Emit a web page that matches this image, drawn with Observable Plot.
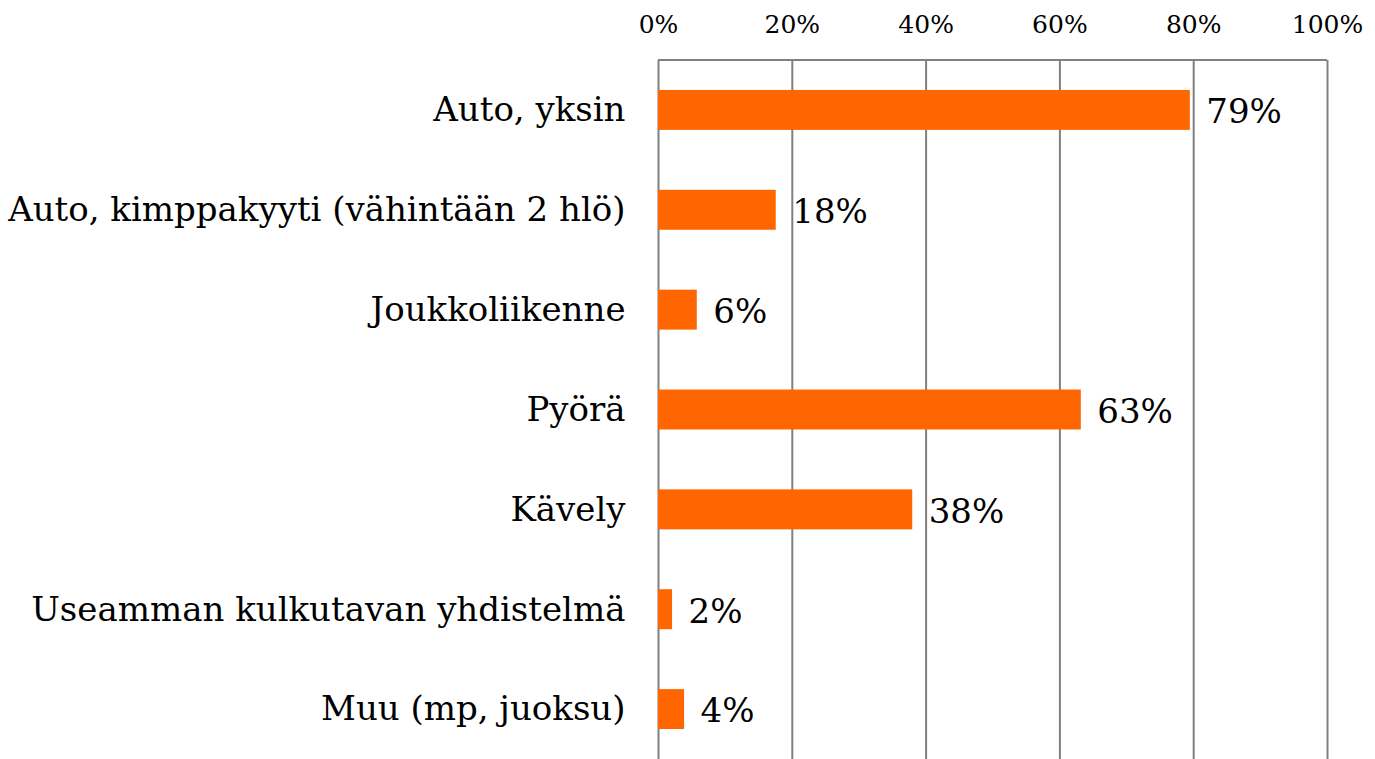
<!DOCTYPE html>
<html>
<head>
<meta charset="utf-8">
<script src="https://cdn.jsdelivr.net/npm/d3@7"></script>
<script src="https://cdn.jsdelivr.net/npm/@observablehq/plot@0.6"></script>
<style>
  html, body { margin: 0; padding: 0; background: #fff; }
  #chart svg { display: block; }
</style>
</head>
<body>
<div id="chart"></div>
<script>
const categories = [
  "Auto, yksin",
  "Auto, kimppakyyti (vähintään 2 hlö)",
  "Joukkoliikenne",
  "Pyörä",
  "Kävely",
  "Useamman kulkutavan yhdistelmä",
  "Muu (mp, juoksu)"
];
const values = [79.5, 17.6, 5.8, 63.2, 38.0, 2.1, 3.9];
const labels = ["79%", "18%", "6%", "63%", "38%", "2%", "4%"];
const xTicks = [0, 20, 40, 60, 80, 100];

const data = categories.map((c, i) => ({category: c, value: values[i], label: labels[i]}));

const font = "'DejaVu Serif', serif";

const topLine = (index, scales, channels, dims) => {
  const g = d3.create("svg:line")
    .attr("x1", scales.x(0)).attr("x2", scales.x(100))
    .attr("y1", dims.marginTop).attr("y2", dims.marginTop)
    .attr("stroke", "#808080").attr("stroke-width", 2);
  return g.node();
};

const chart = Plot.plot({
  width: 1375,
  height: 759,
  marginLeft: 658,
  marginRight: 48,
  marginTop: 60,
  marginBottom: 0,
  style: {fontFamily: font, background: "#fff", color: "#000"},
  x: {domain: [0, 100], axis: null, label: null},
  y: {domain: categories, paddingInner: 0.6, paddingOuter: 0.3, round: false, axis: null, label: null},
  marks: [
    Plot.gridX(xTicks, {stroke: "#808080", strokeOpacity: 1, strokeWidth: 2}),
    topLine,
    Plot.barX(data, {x: "value", y: "category", fill: "#FF6600"}),
    Plot.axisX(xTicks, {anchor: "top", label: null, tickSize: 0, tickPadding: 28, tickFormat: d => d + "%", fontSize: 25, fill: "#000"}),
    Plot.axisY({anchor: "left", label: null, tickSize: 0, tickPadding: 33, fontSize: 34, fill: "#000"}),
    Plot.text(data, {x: "value", y: "category", text: "label", textAnchor: "start", dx: 16, dy: 2, fontSize: 34, fill: "#000"})
  ]
});
document.getElementById("chart").appendChild(chart);
</script>
</body>
</html>
